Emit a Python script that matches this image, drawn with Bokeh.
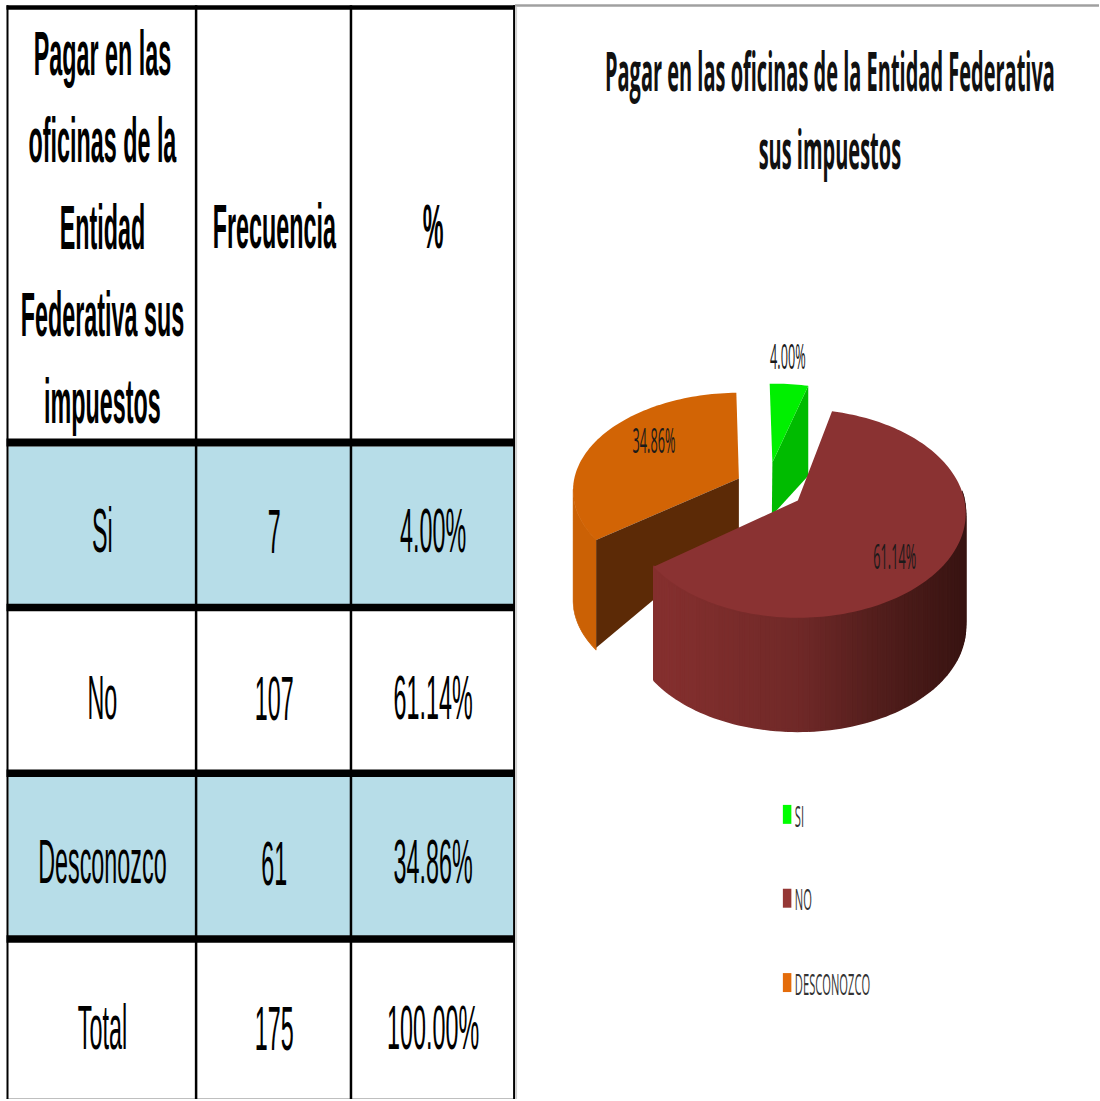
import numpy as np
from bokeh.core.properties import value
from bokeh.embed import file_html
from bokeh.models import Range1d
from bokeh.plotting import figure
from bokeh.resources import INLINE

# ---- data
header_lines = ["Pagar en las", "oficinas de la", "Entidad", "Federativa sus", "impuestos"]
column_titles = ["Frecuencia", "%"]
row_names = ["Si", "No", "Desconozco", "Total"]
frequencies = [7, 107, 61, 175]
percent_labels = ["4.00%", "61.14%", "34.86%", "100.00%"]
chart_title = ["Pagar en las oficinas de la Entidad Federativa", "sus impuestos"]
legend_names = ["SI", "NO", "DESCONOZCO"]
slice_percent = [4.00, 61.14, 34.86]

# ---- page geometry: drawn in reference pixels, stretched vertically as the reference is.
# Bokeh sizes its canvas from the transformed box, so the scale acts twice on the declared size.
W, H = 1100, 1101
LAY_W, LAY_H = 1068, 151
SX, SY = (W / LAY_W) ** 0.5, (H / LAY_H) ** 0.5

p = figure(width=LAY_W, height=LAY_H, output_backend="svg", toolbar_location=None,
           x_range=Range1d(0, W), y_range=Range1d(H, 0), min_border=0,
           x_axis_location=None, y_axis_location=None, outline_line_color=None,
           styles={"transform": f"scale({SX},{SY})", "transform-origin": "0 0"})
p.grid.visible = False

BLACK = "#000000"
# table fills
p.quad(left=8, right=513, top=[446, 777], bottom=[604, 936], fill_color="#b7dde8", line_color=None)
# table rules
p.quad(left=[6, 194.5, 349.5, 513], right=[8, 197, 352, 515], top=4, bottom=H, fill_color=BLACK, line_color=None)
p.quad(left=6, right=515, top=[4, 438, 603.5, 769.5, 935.5, 1099.5], bottom=[8.5, 446, 611, 777, 943, H],
       fill_color=BLACK, line_color=None)
# right panel frame
p.quad(left=515, right=W, top=3, bottom=5.5, fill_color="#a0a0a0", line_color=None)
p.quad(left=515, right=517, top=5.5, bottom=H, fill_color="#d0d0d0", line_color=None)

ARIAL = value("Liberation Sans")
CAL = value("Open Sans")
COLX = [102, 274, 433]
ROWY = [530, 697, 862, 1028]
HEADY = [52, 139, 226, 314, 401]
p.text(x=COLX[0], y=HEADY, text=header_lines, text_font=ARIAL, text_font_style="bold", text_font_size="23px",
       text_align="center", text_baseline="middle", text_color=BLACK)
p.text(x=COLX[1:], y=[225, 225], text=column_titles, text_font=ARIAL, text_font_style="bold", text_font_size="23px",
       text_align="center", text_baseline="middle", text_color=BLACK)
p.text(x=COLX[0], y=ROWY, text=row_names, text_font=ARIAL, text_font_size="23px",
       text_align="center", text_baseline="middle", text_color=BLACK)
p.text(x=COLX[1], y=ROWY, text=[str(v) for v in frequencies], text_font=ARIAL, text_font_size="23px",
       text_align="center", text_baseline="middle", text_color=BLACK)
p.text(x=COLX[2], y=ROWY, text=percent_labels, text_font=ARIAL, text_font_size="23px",
       text_align="center", text_baseline="middle", text_color=BLACK)

# chart title
p.text(x=830, y=[70, 148], text=chart_title, text_font=CAL, text_font_style="bold", text_font_size="19.7px",
       text_align="center", text_baseline="middle", text_color="#111111")


def ray_hit(apex, centre, a, b, theta):
    dx, dy = np.sin(theta) * a, -np.cos(theta) * b
    ox, oy = (apex[0] - centre[0]) / a, (apex[1] - centre[1]) / b
    ux, uy = dx / a, dy / b
    A, B, C = ux**2 + uy**2, 2 * (ox * ux + oy * uy), ox**2 + oy**2 - 1
    t = (-B + np.sqrt(B**2 - 4 * A * C)) / (2 * A)
    return apex[0] + t * dx, apex[1] + t * dy


def arc(apex, centre, a, b, t0, t1, n=80):
    pts = [ray_hit(apex, centre, a, b, t) for t in np.linspace(t0, t1, n)]
    return [q[0] for q in pts], [q[1] for q in pts]


START = np.radians(-1.0)
edges = START + np.radians(np.cumsum([0] + slice_percent) * 3.6)

# orange slice (exploded)
oa, oc = (739, 478), (741, 490)
ox, oy = arc(oa, oc, 168, 98, edges[2], edges[3])
D_O = 110
ORANGE = "#d26405"
left_end = int(np.argmin(ox)) + 1
rx, ry = ox[:left_end], oy[:left_end]
p.patch(rx + rx[::-1], ry + [v + D_O for v in ry[::-1]], fill_color="#cb6105", line_color="#cb6105", line_width=0.5)
p.patch([oa[0]] + ox, [oa[1]] + oy, fill_color=ORANGE, line_color=None)
# orange cut face
p.patch([oa[0], ox[0], ox[0], oa[0]], [oa[1], oy[0], oy[0] + D_O - 2, oa[1] + 50],
        fill_color="#5c2a06", line_color=None)

# green slice (exploded)
ga, gc = (772.5, 462), (772.5, 462)
gx, gy = arc(ga, gc, 155, 79, edges[0], edges[1], 12)
D_G = 90
p.patch([gx[-1], gx[-1], ga[0] - 0.5, ga[0] - 0.5, ga[0]], [gy[-1], gy[-1] + D_G, gy[-1] + D_G + 40, ga[1] + 52, ga[1]],
        fill_color="#00bb00", line_color=None)
p.patch([ga[0]] + gx, [ga[1]] + gy, fill_color="#00f000", line_color=None)

# red slice
ra, rc = (798, 500), (798, 513)
RA, RB = 168, 104.5
D_R = 113
shade_x = [654, 800, 880, 966]
shade_r = [0x86, 0x70, 0x52, 0x38]
shade_g = [0x30, 0x29, 0x1e, 0x14]
shade_b = [0x2f, 0x28, 0x1c, 0x12]
sx, sy = arc(ra, rc, RA, RB, np.radians(85), edges[2], 90)
xs, ys, cols = [], [], []
for i in range(len(sx) - 1):
    xs.append([sx[i], sx[i + 1], sx[i + 1], sx[i]])
    ys.append([sy[i], sy[i + 1], sy[i + 1] + D_R, sy[i] + D_R])
    mx = (sx[i] + sx[i + 1]) / 2
    c = [int(np.interp(mx, shade_x, s)) for s in (shade_r, shade_g, shade_b)]
    cols.append("#%02x%02x%02x" % tuple(c))
p.patches(xs, ys, fill_color=cols, line_color=cols, line_width=1.2)
tx, ty = arc(ra, rc, RA, RB, edges[1], edges[2], 160)
p.patch([ra[0]] + tx, [ra[1]] + ty, fill_color="#8a3232", line_color=None)

# slice labels
p.text(x=[788, 895, 654], y=[356, 556, 440], text=[percent_labels[0], percent_labels[1], percent_labels[2]],
       text_font=CAL, text_font_size="12.5px", text_align="center", text_baseline="middle", text_color="#1a1a1a")

# legend
LEGY = [814.5, 898.5, 983]
p.quad(left=783, right=791.5, top=[y - 9.5 for y in LEGY], bottom=[y + 9.5 for y in LEGY],
       fill_color=["#00ff00", "#953735", "#e46c0a"], line_color=None)
p.text(x=795, y=LEGY, text=legend_names, text_font=CAL, text_font_size="11px",
       text_align="left", text_baseline="middle", text_color="#333333")

open("out.html", "w").write(file_html(p, INLINE))
